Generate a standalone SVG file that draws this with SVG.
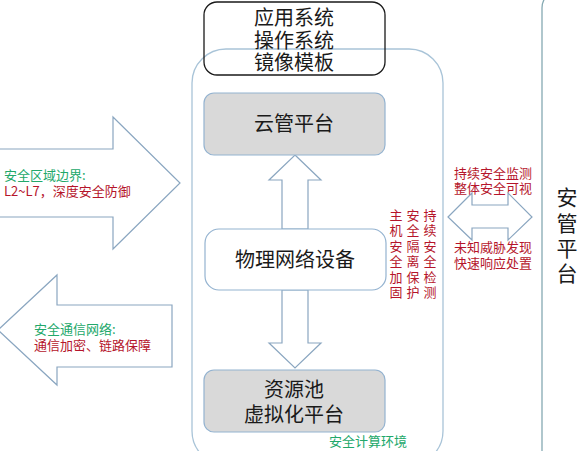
<svg xmlns="http://www.w3.org/2000/svg" width="588" height="451" viewBox="0 0 588 451">
<style>
.t{font-family:"Noto Sans CJK SC","Noto Sans",sans-serif;}
.blk{fill:#1a1a1a;font-size:20px;text-anchor:middle;}
.red{fill:#b5152b;font-size:13px;}
.grn{fill:#22a86a;font-size:13px;}
.arr{fill:#ffffff;stroke:#8aa6c0;stroke-width:1.2;}
.gray{fill:#d9d9d9;stroke:#94b3d0;stroke-width:1.2;}
</style>
<rect width="588" height="451" fill="#ffffff"/>
<g id="container">
<rect x="192" y="49" width="251" height="416" rx="34" fill="none" stroke="#a9c4d8" stroke-width="1.3"/>
<text class="t grn" x="368" y="446" text-anchor="middle" font-size="12.5">安全计算环境</text>
</g>
<g id="anguan">
<rect x="542" y="-10" width="80" height="480" rx="18" fill="#ffffff" stroke="#86aab3" stroke-width="1.3"/>
<text class="t" font-size="21" fill="#1a1a1a" text-anchor="middle"><tspan x="567" y="205">安</tspan><tspan x="567" y="231">管</tspan><tspan x="567" y="256">平</tspan><tspan x="567" y="281">台</tspan></text>
</g>
<g id="connectors">
<polygon class="arr" points="295,155 321,180 308,180 308,229 282,229 282,180 269,180"/>
<polygon class="arr" points="282,290 308,290 308,343 321,343 295,368 269,343 282,343"/>
<polygon class="arr" points="448,217 472,193 472,205 508,205 508,193 532,217 508,240 508,228 472,228 472,240"/>
<polygon class="arr" points="-10,149 113,149 113,117 180,183 113,249 113,217 -10,217"/>
<polygon class="arr" points="-2,330 57,275 57,305 172,305 172,367 57,367 57,385"/>
</g>
<g id="app">
<rect x="204" y="2" width="181" height="73" rx="13" fill="none" stroke="#1a1a1a" stroke-width="1.3"/>
<text class="t blk" font-size="19.5"><tspan x="294" y="25">应用系统</tspan><tspan x="294" y="48">操作系统</tspan><tspan x="294" y="70">镜像模板</tspan></text>
</g>
<g id="cloud">
<rect class="gray" x="204" y="93" width="181" height="62" rx="10"/>
<text class="t blk" x="294" y="131">云管平台</text>
</g>
<g id="phys">
<rect x="205" y="229" width="181" height="61" rx="14" fill="#ffffff" stroke="#94b3d0" stroke-width="1.2"/>
<text class="t blk" x="295" y="267">物理网络设备</text>
</g>
<g id="pool">
<rect class="gray" x="204" y="370" width="181" height="62" rx="10"/>
<text class="t blk"><tspan x="294" y="397">资源池</tspan><tspan x="294" y="422">虚拟化平台</tspan></text>
</g>
<g id="boundary">
<text class="t grn" x="4" y="180" font-size="12">安全区域边界:</text>
<text class="t red" x="4" y="196" font-size="12">L2~L7，深度安全防御</text>
</g>
<g id="comm">
<text class="t grn" x="34" y="334" font-size="12">安全通信网络:</text>
<text class="t red" x="34" y="350" font-size="12">通信加密、链路保障</text>
</g>
<g id="host">
<text class="t red" text-anchor="middle" font-size="12.5"><tspan x="396" y="220">主</tspan><tspan x="396" y="235">机</tspan><tspan x="396" y="251">安</tspan><tspan x="396" y="266">全</tspan><tspan x="396" y="282">加</tspan><tspan x="396" y="297">固</tspan></text>
<text class="t red" text-anchor="middle" font-size="12.5"><tspan x="413" y="220">安</tspan><tspan x="413" y="235">全</tspan><tspan x="413" y="251">隔</tspan><tspan x="413" y="266">离</tspan><tspan x="413" y="282">保</tspan><tspan x="413" y="297">护</tspan></text>
<text class="t red" text-anchor="middle" font-size="12.5"><tspan x="430" y="220">持</tspan><tspan x="430" y="235">续</tspan><tspan x="430" y="251">安</tspan><tspan x="430" y="266">全</tspan><tspan x="430" y="282">检</tspan><tspan x="430" y="297">测</tspan></text>
</g>
<g id="monitor">
<text class="t red" text-anchor="middle"><tspan x="493" y="178">持续安全监测</tspan><tspan x="493" y="193">整体安全可视</tspan></text>
<text class="t red" text-anchor="middle"><tspan x="493" y="252">未知威胁发现</tspan><tspan x="493" y="268">快速响应处置</tspan></text>
</g>
</svg>
